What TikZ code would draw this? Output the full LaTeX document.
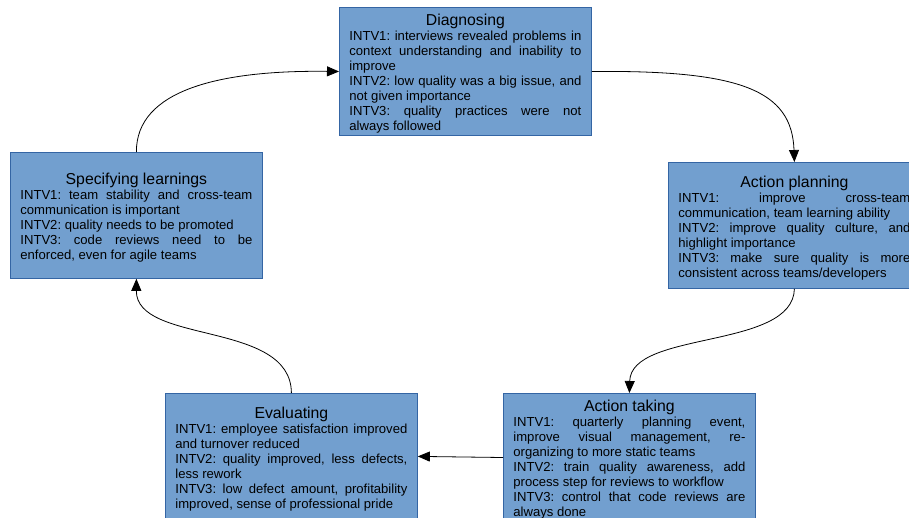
\documentclass[tikz,border=0pt]{standalone}
\usepackage{fontspec}
\setmainfont{Liberation Sans}
\usetikzlibrary{arrows.meta}
\definecolor{boxfill}{HTML}{729FCF}
\definecolor{boxline}{HTML}{3465A4}
\hyphenpenalty=10000
\emergencystretch=20pt
\frenchspacing
\newcommand{\boxfont}{\fontsize{13.1}{15}\selectfont}
\tikzset{
  stagebox/.style={draw=boxline, fill=boxfill, line width=0.8pt, anchor=north west,
    minimum width=252pt, minimum height=126pt, text width=232pt, inner xsep=10pt, inner ysep=2pt,
    align=justify, font=\boxfont},
  flow/.style={line width=0.8pt, -{Triangle[length=12pt,width=10pt]}}
}
\newcommand{\stagetitle}[1]{{\centering\fontsize{15.8}{16}\selectfont\rule{0pt}{16.5pt}#1\par}}
\begin{document}
\begin{tikzpicture}[x=1pt,y=-1pt]
\clip (0,0) rectangle (909,518);
\fill[white] (0,0) rectangle (909,518);
\node[stagebox] (diag) at (339,7) {\stagetitle{Diagnosing}INTV1: interviews revealed problems in\linebreak context understanding and inability to\linebreak improve\\ INTV2: low quality was a big issue, and\linebreak not given importance\\ INTV3: quality practices were not\linebreak always followed};
\node[stagebox] (plan) at (668,162) {\stagetitle{Action planning}INTV1: improve cross-team\linebreak communication, team learning ability\\ INTV2: improve quality culture, and\linebreak highlight importance\\ INTV3: make sure quality is more\linebreak consistent across teams/developers};
\node[stagebox] (learn) at (10,152) {\stagetitle{Specifying learnings}INTV1: team stability and cross-team\linebreak communication is important\\ INTV2: quality needs to be promoted\\ INTV3: code reviews need to be\linebreak enforced, even for agile teams};
\node[stagebox] (eval) at (165,393) {\stagetitle{Evaluating}INTV1: employee satisfaction improved\linebreak and turnover reduced\\ INTV2: quality improved, less defects,\linebreak less rework\\ INTV3: low defect amount, profitability\linebreak improved, sense of professional pride};
\node[stagebox] (take) at (503,393) {\stagetitle{Action taking}INTV1: quarterly planning event,\linebreak improve visual management, re-\linebreak organizing to more static teams\\ INTV2: train quality awareness, add\linebreak process step for reviews to workflow\\ INTV3: control that code reviews are\linebreak always done};
\draw[flow] (diag.east) .. controls (740,70) and (792,90) .. (plan.north);
\draw[flow] (plan.south) .. controls (793,350) and (631,330) .. (take.north);
\draw[flow] (take.west) -- (eval.east);
\draw[flow] (eval.north) .. controls (291,320) and (136,345) .. (learn.south);
\draw[flow] (learn.north) .. controls (136,90) and (220,70) .. (diag.west);
\end{tikzpicture}
\end{document}
